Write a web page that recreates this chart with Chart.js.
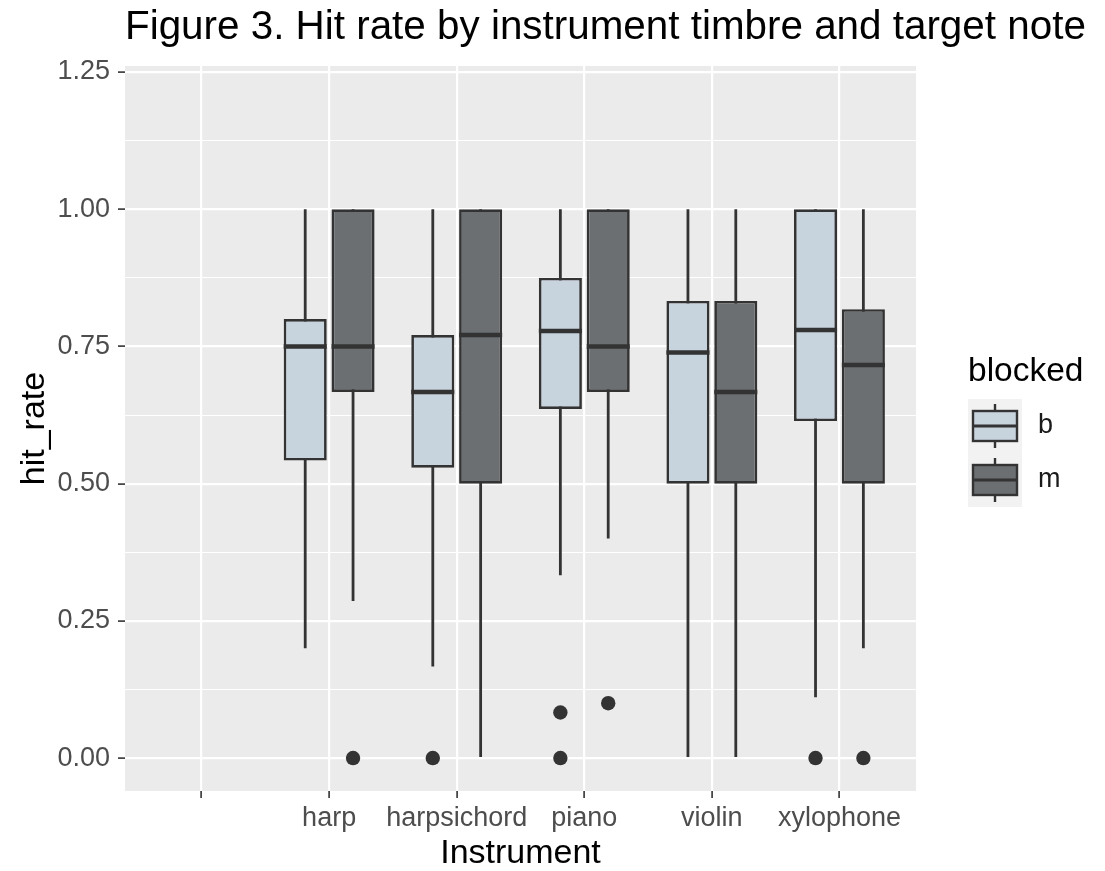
<!DOCTYPE html>
<html>
<head>
<meta charset="utf-8">
<title>Figure 3. Hit rate by instrument timbre and target note</title>
<script src="https://cdn.jsdelivr.net/npm/chart.js@4.4.1/dist/chart.umd.min.js"></script>
<style>
  html, body { margin: 0; padding: 0; background: #ffffff; }
  #wrap { width: 1105px; height: 871px; }
</style>
</head>
<body>
<div id="wrap"><canvas id="chart-area" width="1105" height="871"></canvas></div>
<script>
var chartTitle = 'Figure 3. Hit rate by instrument timbre and target note';
var categories = ['', 'harp', 'harpsichord', 'piano', 'violin', 'xylophone'];
var groups = ['b', 'm'];

// blocked = b
var b_low  = [null, 0.200, 0.167, 0.333, 0.000, 0.111];
var b_q1   = [null, 0.542, 0.529, 0.636, 0.500, 0.614];
var b_med  = [null, 0.750, 0.667, 0.778, 0.739, 0.780];
var b_q3   = [null, 0.800, 0.771, 0.875, 0.833, 1.000];
var b_high = [null, 1.000, 1.000, 1.000, 1.000, 1.000];
var b_out  = [[], [], [0], [0.083, 0], [], [0]];

// blocked = m
var m_low  = [null, 0.286, 0.000, 0.400, 0.000, 0.200];
var m_q1   = [null, 0.667, 0.500, 0.667, 0.500, 0.500];
var m_med  = [null, 0.750, 0.771, 0.750, 0.667, 0.716];
var m_q3   = [null, 1.000, 1.000, 1.000, 0.833, 0.818];
var m_high = [null, 1.000, 1.000, 1.000, 1.000, 1.000];
var m_out  = [[], [0], [], [0.1], [], [0]];

var yTicks = [0, 0.25, 0.5, 0.75, 1, 1.25];

var fills = ['#C7D3DD', '#6B6F72'];
var ink = '#333333';
var fontFamily = '"Liberation Sans", Arial, Helvetica, sans-serif';

Chart.defaults.font.family = fontFamily;

function pairs(lo, hi){
  var out = [];
  for (var i = 0; i < lo.length; i++){
    out.push(lo[i] === null ? null : [lo[i], hi[i]]);
  }
  return out;
}

// major ticks plus the minor ones half way between them
function allYTicks(){
  var t = [];
  for (var i = 0; i < yTicks.length; i++){
    t.push({value: yTicks[i]});
    if (i < yTicks.length - 1) t.push({value: (yTicks[i] + yTicks[i + 1]) / 2});
  }
  return t;
}

function isMajor(v){
  for (var i = 0; i < yTicks.length; i++){
    if (Math.abs(yTicks[i] - v) < 1e-9) return true;
  }
  return false;
}

// grey panel behind the grid
var panelPlugin = {
  id: 'panel',
  beforeDraw: function(chart){
    var a = chart.chartArea, ctx = chart.ctx;
    ctx.save();
    ctx.fillStyle = '#EBEBEB';
    ctx.fillRect(a.left, a.top, a.right - a.left, a.bottom - a.top);
    ctx.restore();
  }
};

// medians and outlier dots, placed on the box bars
var boxPlugin = {
  id: 'boxExtras',
  afterDatasetsDraw: function(chart){
    var ctx = chart.ctx, y = chart.scales.y;
    var meds = [b_med, m_med], outs = [b_out, m_out];
    for (var g = 0; g < groups.length; g++){
      var meta = chart.getDatasetMeta(g);
      for (var i = 0; i < categories.length; i++){
        var bar = meta.data[i];
        if (!bar || meds[g][i] === null) continue;
        var p = bar.getProps(['x', 'width'], true);
        var py = y.getPixelForValue(meds[g][i]);
        ctx.save();
        ctx.strokeStyle = ink;
        ctx.lineWidth = 4.5;
        ctx.beginPath();
        ctx.moveTo(p.x - p.width / 2, py);
        ctx.lineTo(p.x + p.width / 2, py);
        ctx.stroke();
        ctx.fillStyle = ink;
        for (var k = 0; k < outs[g][i].length; k++){
          ctx.beginPath();
          ctx.arc(p.x, y.getPixelForValue(outs[g][i][k]), 7.2, 0, Math.PI * 2);
          ctx.fill();
        }
        ctx.restore();
      }
    }
  }
};

// title on the panel's left edge and the boxplot legend on the right
var decorPlugin = {
  id: 'decor',
  afterDraw: function(chart){
    var a = chart.chartArea, ctx = chart.ctx;
    ctx.save();
    ctx.fillStyle = '#000000';
    ctx.textBaseline = 'alphabetic';
    ctx.textAlign = 'left';
    ctx.font = '40.4px ' + fontFamily;
    ctx.fillText(chartTitle, a.left, 39);

    var lx = a.right + 52;
    var mid = (a.top + a.bottom) / 2;
    ctx.font = '33.5px ' + fontFamily;
    ctx.fillText('blocked', lx, mid - 48);

    var size = 54;
    var top = mid - 29.5;
    for (var g = 0; g < groups.length; g++){
      var ky = top + g * size;
      var cx = lx + size / 2, cy = ky + size / 2;
      ctx.fillStyle = '#F2F2F2';
      ctx.fillRect(lx, ky, size, size);
      ctx.strokeStyle = ink;
      ctx.lineWidth = 2.4;
      ctx.beginPath();
      ctx.moveTo(cx, ky + 5);
      ctx.lineTo(cx, ky + size - 5);
      ctx.stroke();
      ctx.fillStyle = fills[g];
      ctx.fillRect(lx + 5, cy - 15, size - 10, 30);
      ctx.lineWidth = 2.4;
      ctx.strokeRect(lx + 5, cy - 15, size - 10, 30);
      ctx.lineWidth = 3;
      ctx.beginPath();
      ctx.moveTo(lx + 5, cy);
      ctx.lineTo(lx + size - 5, cy);
      ctx.stroke();
      ctx.fillStyle = '#1A1A1A';
      ctx.font = '27px ' + fontFamily;
      ctx.textBaseline = 'middle';
      ctx.fillText(groups[g], lx + 70, cy);
      ctx.textBaseline = 'alphabetic';
    }
    ctx.restore();
  }
};

function boxSet(g, q1, q3){
  return {
    label: groups[g], stack: groups[g], order: 1,
    data: pairs(q1, q3),
    backgroundColor: fills[g], borderColor: ink, borderWidth: 2.7, borderSkipped: false,
    barPercentage: 0.9, categoryPercentage: 0.75
  };
}

function whiskerSet(g, lo, hi){
  return {
    label: groups[g] + ' whisker', stack: groups[g], order: 2,
    data: pairs(lo, hi),
    backgroundColor: ink, borderWidth: 0,
    maxBarThickness: 2.8, barPercentage: 0.9, categoryPercentage: 0.75
  };
}

var config = {
  type: 'bar',
  data: {
    labels: categories,
    datasets: [
      boxSet(0, b_q1, b_q3),
      boxSet(1, m_q1, m_q3),
      whiskerSet(0, b_low, b_high),
      whiskerSet(1, m_low, m_high)
    ]
  },
  options: {
    responsive: false,
    animation: false,
    devicePixelRatio: 1,
    layout: { padding: { top: 66, right: 189, bottom: 0, left: 0 } },
    plugins: {
      legend: { display: false },
      tooltip: { enabled: false },
      title: { display: false }
    },
    scales: {
      x: {
        type: 'category',
        offset: true,
        grid: { offset: false, color: '#FFFFFF', lineWidth: 2.2, tickColor: ink, tickLength: 7, tickWidth: 1.6 },
        border: { display: false },
        ticks: { color: '#4D4D4D', font: { size: 27 }, padding: 4, autoSkip: false, maxRotation: 0 },
        title: { display: true, text: 'Instrument', color: '#000000', font: { size: 34, lineHeight: 1 }, padding: { top: 0, bottom: 0 } },
        // ggplot pads a discrete axis by 0.6 of a category on each side
        afterBuildTicks: function(scale){
          scale._startValue = scale.min - 0.6;
          scale._valueRange = scale.max - scale.min + 1.2;
        },
        afterFit: function(scale){ scale.height = 80; }
      },
      y: {
        type: 'linear',
        min: -0.06,
        max: 1.261,
        stacked: false,
        grid: {
          color: '#FFFFFF',
          lineWidth: function(c){ return isMajor(c.tick.value) ? 2.2 : 1.1; },
          tickColor: function(c){ return isMajor(c.tick.value) ? ink : 'rgba(0,0,0,0)'; },
          tickLength: 7,
          tickWidth: 1.6
        },
        border: { display: false },
        ticks: {
          color: '#4D4D4D', font: { size: 27 }, padding: 8, autoSkip: false,
          callback: function(v){ return isMajor(v) ? v.toFixed(2) : ''; }
        },
        title: { display: true, text: 'hit_rate', color: '#000000', font: { size: 34, lineHeight: 1 }, padding: { top: 18, bottom: 0 } },
        afterBuildTicks: function(scale){ scale.ticks = allYTicks(); },
        afterFit: function(scale){ scale.width = 125; }
      }
    }
  },
  plugins: [panelPlugin, boxPlugin, decorPlugin]
};

var ctx = document.getElementById('chart-area').getContext('2d');
window.myBox = new Chart(ctx, config);
</script>
</body>
</html>
